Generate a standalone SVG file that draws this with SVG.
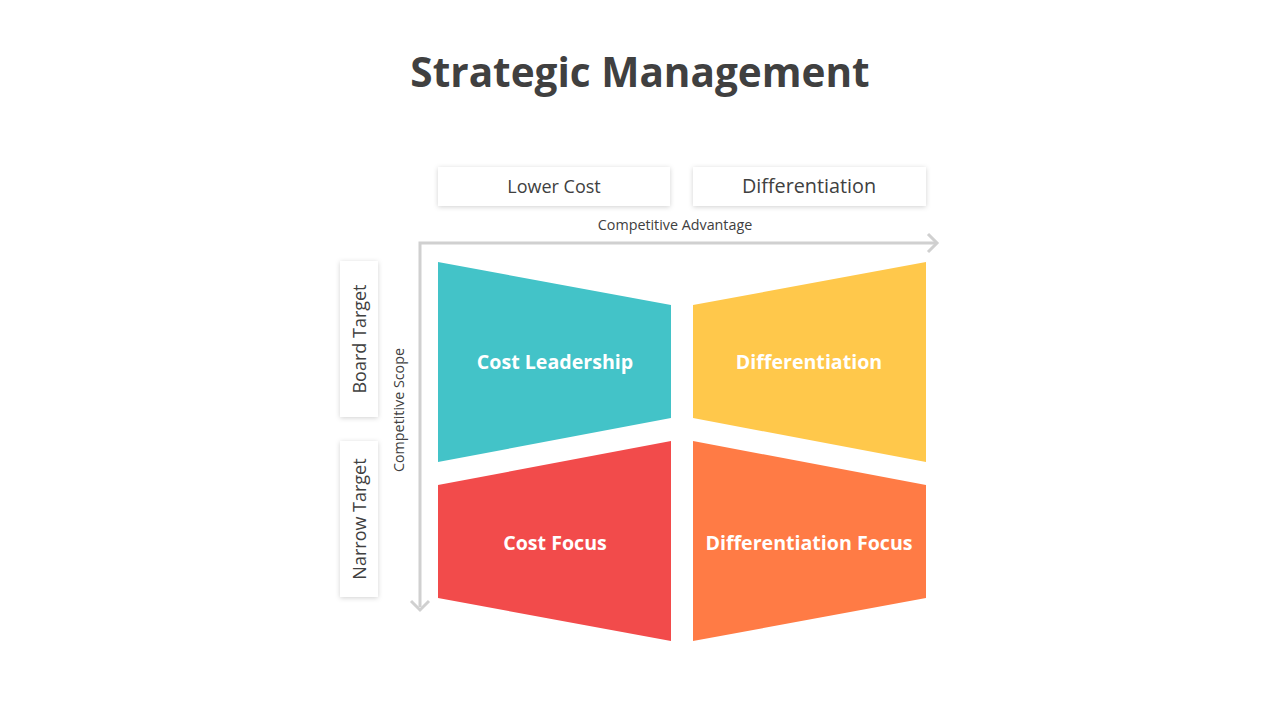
<svg xmlns="http://www.w3.org/2000/svg" width="1280" height="720" viewBox="0 0 1280 720">
<defs>
<filter id="sh" x="-20%" y="-20%" width="140%" height="140%">
<feDropShadow dx="0" dy="1" stdDeviation="2.5" flood-color="#000" flood-opacity="0.18"/>
</filter>
<style>
.title{font-family:"Open Sans","Noto Sans",sans-serif;font-weight:700;font-size:40.5px;fill:#404040}
.box{fill:#fff;filter:url(#sh)}
.boxt{font-family:"Open Sans","Noto Sans",sans-serif;font-size:18px;fill:#404040}
.boxt.big{font-size:19.8px}
.small{font-family:"Open Sans","Noto Sans",sans-serif;font-size:14.3px;fill:#404040}
.lbl{font-family:"Open Sans","Noto Sans",sans-serif;font-weight:700;font-size:19.6px;fill:#fff}
.axis{fill:none;stroke:#d0d0d0;stroke-width:3}
</style>
</defs>
<rect width="1280" height="720" fill="#fff"/>
<text class="title" x="640" y="87" text-anchor="middle">Strategic Management</text>

<g id="lower-cost"><rect class="box" x="438" y="167" width="232" height="39"/><text class="boxt" x="554" y="193" text-anchor="middle">Lower Cost</text></g>
<g id="differentiation-header"><rect class="box" x="693" y="167" width="233" height="39"/><text class="boxt big" x="809" y="193" text-anchor="middle">Differentiation</text></g>
<g id="board-target"><rect class="box" x="340" y="261" width="38" height="156"/><text class="boxt" transform="translate(366,339) rotate(-90)" text-anchor="middle">Board Target</text></g>
<g id="narrow-target"><rect class="box" x="340" y="441" width="38" height="156"/><text class="boxt" transform="translate(366,519) rotate(-90)" text-anchor="middle">Narrow Target</text></g>

<g id="connectors">
<path class="axis" d="M420,607 V243 H936"/>
<path class="axis" d="M928,234 L937,243 L928,252"/>
<path class="axis" d="M411,601 L420,610 L429,601"/>
<text class="small" x="675" y="230" text-anchor="middle">Competitive Advantage</text>
<text class="small" transform="translate(404,410) rotate(-90)" text-anchor="middle">Competitive Scope</text>
</g>

<g id="cost-leadership"><polygon points="438,262 671,305 671,418 438,462" fill="#43C3C8"/><text class="lbl" x="555" y="369" text-anchor="middle">Cost Leadership</text></g>
<g id="differentiation"><polygon points="693,305 926,262 926,462 693,418" fill="#FFC84B"/><text class="lbl" x="809" y="369" text-anchor="middle">Differentiation</text></g>
<g id="cost-focus"><polygon points="438,485 671,441 671,641 438,598" fill="#F24B4B"/><text class="lbl" x="555" y="550" text-anchor="middle">Cost Focus</text></g>
<g id="differentiation-focus"><polygon points="693,441 926,485 926,598 693,641" fill="#FF7B45"/><text class="lbl" x="809" y="550" text-anchor="middle">Differentiation  Focus</text></g>
</svg>
